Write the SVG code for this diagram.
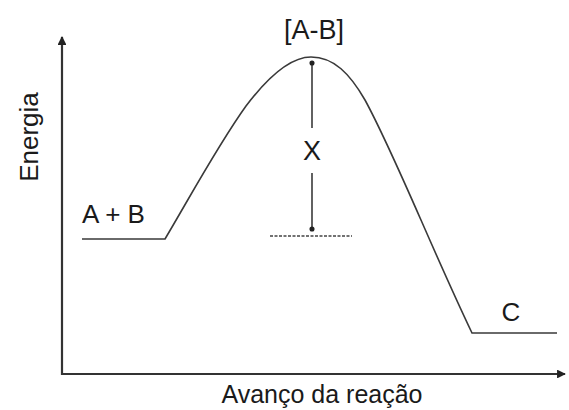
<svg xmlns="http://www.w3.org/2000/svg" width="569" height="410" viewBox="0 0 569 410">
<defs>
<style>
.ln{fill:none;stroke:#3a3a3a;stroke-width:1.6}
.ax{fill:none;stroke:#333;stroke-width:2.2}
.t{font-family:"Liberation Sans",Arial,sans-serif;fill:#1a1a1a}
</style>
<marker id="ah" viewBox="0 0 10 10" refX="9" refY="5" markerWidth="4" markerHeight="4" orient="auto-start-reverse">
<path d="M0,0 L10,5 L0,10 Z" fill="#222"/>
</marker>
<marker id="dot" viewBox="0 0 10 10" refX="5" refY="5" markerWidth="4" markerHeight="4" orient="auto">
<circle cx="5" cy="5" r="4" fill="#222"/>
</marker>
</defs>
<rect width="569" height="410" fill="#fff"/>
<g id="connectors">
<path class="ax" d="M62,37 V374 H565" marker-start="url(#ah)" marker-end="url(#ah)"/>
<path class="ln" d="M82,239 H165 C190,197 218,145 246,106 C268,77 290,57 311,57 C334,57 350,74 365,100 C395,155 430,245 472,333 H557"/>
<path class="ln" d="M312,63 V128" marker-start="url(#dot)"/>
<path class="ln" d="M312,173 V229" marker-end="url(#dot)"/>
<path d="M270,236 H352" fill="none" stroke="#444" stroke-width="1.4" stroke-dasharray="3,1.5"/>
</g>
<g id="n-ab"><text class="t" x="82" y="223" font-size="26">A + B</text></g>
<g id="n-ts"><text class="t" x="314" y="39" font-size="27" text-anchor="middle">[A-B]</text></g>
<g id="n-x"><text class="t" x="312" y="160" font-size="27" text-anchor="middle">X</text></g>
<g id="n-c"><text class="t" x="511" y="321" font-size="26" text-anchor="middle">C</text></g>
<g id="n-yl"><text class="t" x="0" y="0" font-size="26" text-anchor="middle" transform="translate(38,137) rotate(-90)">Energia</text></g>
<g id="n-xl"><text class="t" x="322" y="403" font-size="25" text-anchor="middle">Avanço da reação</text></g>
</svg>
